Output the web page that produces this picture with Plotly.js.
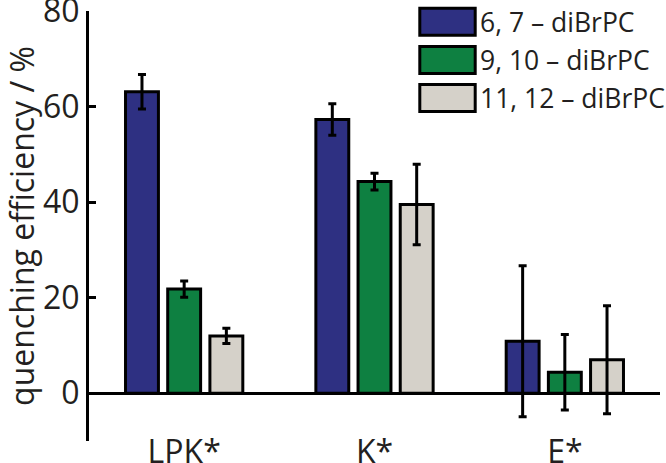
<!DOCTYPE html>
<html>
<head>
<meta charset="utf-8">
<script src="https://cdn.plot.ly/plotly-3.0.1.min.js"></script>
<style>html,body{margin:0;padding:0;background:#fff;}#chart{width:666px;height:463px;}</style>
</head>
<body>
<div id="chart"></div>
<script>
// ---- data ----
const categories = ["LPK*", "K*", "E*"];
const seriesNames = ["6, 7 \u2013 diBrPC", "9, 10 \u2013 diBrPC", "11, 12 \u2013 diBrPC"];
const values_67 = [63.1, 57.3, 10.9];
const values_910 = [21.8, 44.3, 4.4];
const values_1112 = [12.0, 39.5, 7.0];
const errors_67 = [3.6, 3.3, 15.8];
const errors_910 = [1.7, 1.75, 7.9];
const errors_1112 = [1.6, 8.4, 11.3];
const yTicks = [0, 20, 40, 60, 80];

const colors = ["#2e3082", "#0e8041", "#d5d1c9"];
const textColor = "#231f20";
const allValues = [values_67, values_910, values_1112];
const allErrors = [errors_67, errors_910, errors_1112];

const traces = allValues.map((v, i) => ({
  type: "bar",
  name: seriesNames[i],
  x: categories,
  y: v,
  marker: { color: colors[i], line: { color: "#000", width: 3 } },
  error_y: { type: "data", array: allErrors[i], visible: true, color: "#000", thickness: 3, width: 4 },
  showlegend: false
}));

// plot area in px
const W = 666, H = 463, L = 89, R = 6, T = 11, B = 22;
const pw = W - L - R, ph = H - T - B;
const px = x => (x - L) / pw;
const py = y => (H - B - y) / ph;

// manual legend (large swatches)
const shapes = [];
const annotations = [];
const swatchTops = [8.2, 46.5, 84.5];
seriesNames.forEach((n, i) => {
  const y0 = swatchTops[i], y1 = y0 + 27;
  shapes.push({ type: "rect", xref: "paper", yref: "paper",
    x0: px(419.8), x1: px(475.2), y0: py(y1), y1: py(y0),
    fillcolor: colors[i], line: { color: "#000", width: 3 } });
  annotations.push({ xref: "paper", yref: "paper", x: px(478), y: py((y0 + y1) / 2),
    xanchor: "left", yanchor: "middle", text: n, showarrow: false,
    font: { family: "Open Sans, sans-serif", size: 26.5, color: textColor } });
});

const layout = {
  width: W, height: H,
  margin: { l: L, r: R, t: T, b: B, pad: 0 },
  paper_bgcolor: "#fff", plot_bgcolor: "#fff",
  barmode: "group", bargap: 0.335, bargroupgap: 0.22,
  font: { family: "Open Sans, sans-serif", color: textColor },
  xaxis: {
    type: "category", range: [-0.5, 2.5], showline: false, showgrid: false, zeroline: false,
    ticks: "", tickfont: { size: 32, color: textColor }, ticklabelstandoff: -11,
    ticklabeloverflow: "allow", fixedrange: true
  },
  yaxis: {
    range: [-10, 80], tickvals: yTicks, ticktext: yTicks.map(String),
    showline: true, linecolor: "#000", linewidth: 3, mirror: false,
    ticks: "inside", ticklen: 7, tickwidth: 3, tickcolor: "#000",
    showgrid: false, zeroline: true, zerolinecolor: "#000", zerolinewidth: 3,
    tickfont: { size: 32, color: textColor }, ticklabeloverflow: "allow",
    title: { text: "quenching efficiency / %", font: { size: 32, color: textColor }, standoff: 4 }
  },
  shapes: shapes,
  annotations: annotations,
  showlegend: false
};

Plotly.newPlot("chart", traces, layout, { displayModeBar: false, staticPlot: true });
</script>
</body>
</html>
